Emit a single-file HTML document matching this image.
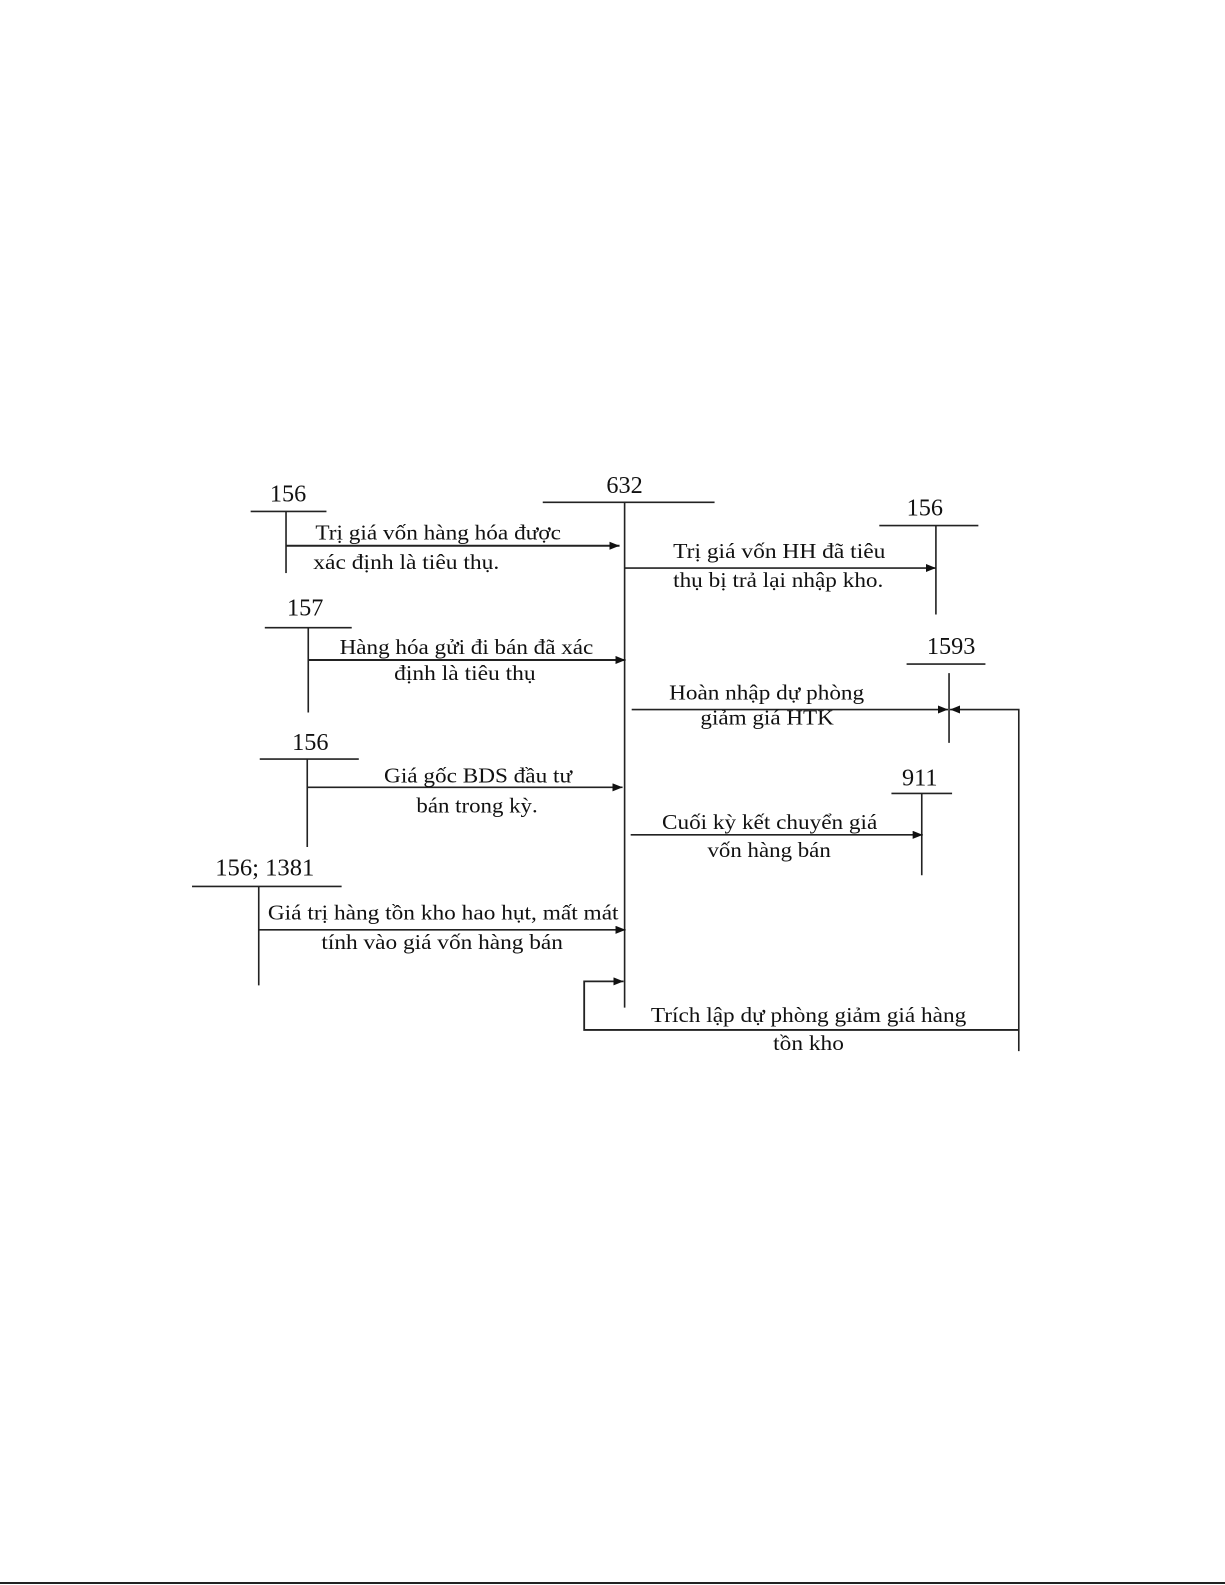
<!DOCTYPE html>
<html><head><meta charset="utf-8"><style>
html,body{margin:0;padding:0;background:#fff;}
svg{display:block;}
text{font-family:"Liberation Serif","DejaVu Serif",serif;fill:#111;}
.n{font-size:24px;}
.t{font-size:21px;}
</style></head><body>
<svg width="1225" height="1585" viewBox="0 0 1225 1585" xmlns="http://www.w3.org/2000/svg">
<defs><marker id="a" markerWidth="10" markerHeight="8" refX="10" refY="4" orient="auto" markerUnits="userSpaceOnUse"><path d="M0,0 L10,4 L0,8 z" fill="#111"/></marker></defs>
<g transform="scale(1.0107)">
<g stroke="#222" stroke-width="1.6" fill="none">
<line x1="537" y1="497" x2="707" y2="497"/><line x1="618" y1="497" x2="618" y2="997"/>
<line x1="248" y1="506" x2="323" y2="506"/><line x1="283" y1="506" x2="283" y2="567"/>
<line x1="283" y1="540" x2="613" y2="540" stroke-width="2" marker-end="url(#a)"/>
<line x1="262" y1="621" x2="348" y2="621"/><line x1="305" y1="621" x2="305" y2="705"/>
<line x1="305" y1="653" x2="619" y2="653" stroke-width="2" marker-end="url(#a)"/>
<line x1="257" y1="751" x2="355" y2="751"/><line x1="304" y1="751" x2="304" y2="838"/>
<line x1="304" y1="779" x2="616" y2="779" marker-end="url(#a)"/>
<line x1="190" y1="877" x2="338" y2="877"/><line x1="256" y1="877" x2="256" y2="975"/>
<line x1="256" y1="920" x2="619" y2="920" marker-end="url(#a)"/>
<line x1="870" y1="520" x2="968" y2="520"/><line x1="926" y1="520" x2="926" y2="608"/>
<line x1="618" y1="562" x2="926" y2="562" marker-end="url(#a)"/>
<line x1="897" y1="657" x2="975" y2="657"/><line x1="939" y1="666" x2="939" y2="735"/>
<line x1="625" y1="702" x2="938" y2="702" marker-end="url(#a)"/>
<polyline points="1008,1040 1008,702 940,702" marker-end="url(#a)"/>
<line x1="882" y1="785" x2="942" y2="785"/><line x1="912" y1="785" x2="912" y2="866"/>
<line x1="624" y1="826" x2="913" y2="826" marker-end="url(#a)"/>
<polyline points="1008,1019 578,1019 578,971 617,971" stroke-width="1.8" marker-end="url(#a)"/>
</g>
<text class="n" x="618" y="488" text-anchor="middle">632</text>
<text class="n" x="285" y="496" text-anchor="middle">156</text>
<text class="n" x="302" y="609" text-anchor="middle">157</text>
<text class="n" x="307" y="742" text-anchor="middle">156</text>
<text class="n" x="262" y="866" text-anchor="middle" textLength="98" lengthAdjust="spacingAndGlyphs">156; 1381</text>
<text class="n" x="915" y="510" text-anchor="middle">156</text>
<text class="n" x="941" y="647" text-anchor="middle">1593</text>
<text class="n" x="910" y="777" text-anchor="middle">911</text>
<text class="t" x="312" y="534" textLength="243" lengthAdjust="spacingAndGlyphs">Trị giá vốn hàng hóa được</text>
<text class="t" x="310" y="563" textLength="184" lengthAdjust="spacingAndGlyphs">xác định là tiêu thụ.</text>
<text class="t" x="336" y="647" textLength="251" lengthAdjust="spacingAndGlyphs">Hàng hóa gửi đi bán đã xác</text>
<text class="t" x="390" y="673" textLength="140" lengthAdjust="spacingAndGlyphs">định là tiêu thụ</text>
<text class="t" x="380" y="774" textLength="186" lengthAdjust="spacingAndGlyphs">Giá gốc BDS đầu tư</text>
<text class="t" x="412" y="804" textLength="120" lengthAdjust="spacingAndGlyphs">bán trong kỳ.</text>
<text class="t" x="265" y="910" textLength="347" lengthAdjust="spacingAndGlyphs">Giá trị hàng tồn kho hao hụt, mất mát</text>
<text class="t" x="318" y="939" textLength="239" lengthAdjust="spacingAndGlyphs">tính vào giá vốn hàng bán</text>
<text class="t" x="666" y="552" textLength="210" lengthAdjust="spacingAndGlyphs">Trị giá vốn HH đã tiêu</text>
<text class="t" x="666" y="581" textLength="208" lengthAdjust="spacingAndGlyphs">thụ bị trả lại nhập kho.</text>
<text class="t" x="662" y="692" textLength="193" lengthAdjust="spacingAndGlyphs">Hoàn nhập dự phòng</text>
<text class="t" x="693" y="717" textLength="132" lengthAdjust="spacingAndGlyphs">giảm giá HTK</text>
<text class="t" x="655" y="820" textLength="213" lengthAdjust="spacingAndGlyphs">Cuối kỳ kết chuyển giá</text>
<text class="t" x="700" y="848" textLength="122" lengthAdjust="spacingAndGlyphs">vốn hàng bán</text>
<text class="t" x="644" y="1011" textLength="312" lengthAdjust="spacingAndGlyphs">Trích lập dự phòng giảm giá hàng</text>
<text class="t" x="765" y="1039" textLength="70" lengthAdjust="spacingAndGlyphs">tồn kho</text>
</g>
<line x1="0" y1="1583" x2="1225" y2="1583" stroke="#222" stroke-width="2"/>
</svg>
</body></html>
